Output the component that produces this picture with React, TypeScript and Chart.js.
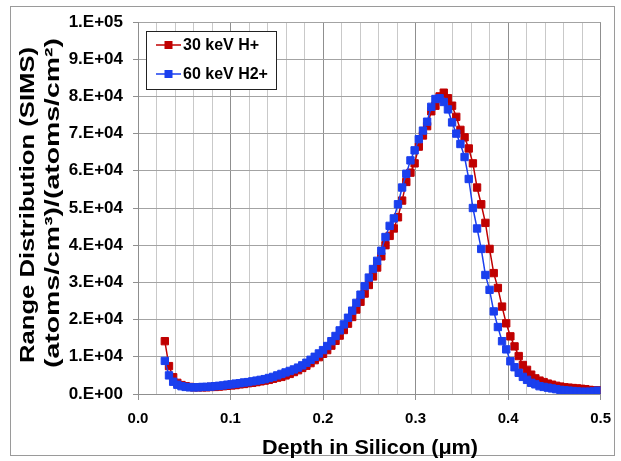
import React, { useEffect, useRef } from "react";
import { Chart, registerables } from "chart.js";

Chart.register(...registerables);

// Depth in silicon (µm)
const depthUm = [
  0.029, 0.0335, 0.038, 0.0425, 0.047, 0.0515, 0.056, 0.0605, 0.065, 0.0695,
  0.074, 0.0785, 0.083, 0.0875, 0.092, 0.0965, 0.101, 0.1055, 0.11, 0.1145,
  0.119, 0.1235, 0.128, 0.1325, 0.137, 0.1415, 0.146, 0.1505, 0.155, 0.1595,
  0.164, 0.1685, 0.173, 0.1775, 0.182, 0.1865, 0.191, 0.1955, 0.2, 0.2045,
  0.209, 0.2135, 0.218, 0.2225, 0.227, 0.2315, 0.236, 0.2405, 0.245, 0.2495,
  0.254, 0.2585, 0.263, 0.2675, 0.272, 0.2765, 0.281, 0.2855, 0.29, 0.2945,
  0.299, 0.3035, 0.308, 0.3125, 0.317, 0.3215, 0.326, 0.3305, 0.335, 0.3395,
  0.344, 0.3485, 0.353, 0.3575, 0.362, 0.3665, 0.371, 0.3755, 0.38, 0.3845,
  0.389, 0.3935, 0.398, 0.4025, 0.407, 0.4115, 0.416, 0.4205, 0.425, 0.4295,
  0.434, 0.4385, 0.443, 0.4475, 0.452, 0.4565, 0.461, 0.4655, 0.47, 0.4745,
  0.479, 0.4835, 0.488, 0.4925, 0.497,
];

// 30 keV H+ (atoms/cm3)/(atoms/cm2)
const h30keV = [
  14200, 7500, 4500, 3000, 2400, 2100, 1900, 1800, 1800, 1800,
  1800, 1900, 1900, 2000, 2100, 2200, 2300, 2400, 2600, 2700,
  2900, 3000, 3200, 3400, 3600, 3800, 4100, 4400, 4600, 5000,
  5400, 5900, 6400, 7000, 7600, 8300, 9100, 9900, 10800, 11800,
  13000, 14300, 15700, 17200, 18900, 20700, 22700, 24800, 27000, 29300,
  31600, 34000, 37000, 40000, 42500, 44500, 47500, 52000, 57000, 59500,
  62000, 66500, 69500, 72000, 76000, 77500, 80000, 81000, 79500, 77500,
  74500, 71000, 69000, 66000, 62000, 55500, 51000, 46000, 39000, 32500,
  28500, 23500, 19000, 15500, 12800, 10200, 7800, 6500, 5200, 4200,
  3600, 3200, 2800, 2500, 2200, 2000, 1800, 1700, 1600, 1500,
  1400, 1300, 1100, 1000, 1000,
];

// 60 keV H2+ (atoms/cm3)/(atoms/cm2)
const h2_60keV = [
  8900, 5000, 3300, 2500, 2100, 1900, 1800, 1800, 1800, 1900,
  1900, 2000, 2100, 2200, 2300, 2500, 2600, 2800, 2900, 3100,
  3200, 3400, 3600, 3800, 4000, 4300, 4600, 5000, 5400, 5800,
  6200, 6600, 7100, 7700, 8400, 9200, 10000, 10900, 11800, 12900,
  14200, 15600, 17100, 18700, 20500, 22400, 24500, 26700, 29000, 31300,
  33600, 35800, 38500, 42200, 45200, 47200, 51000, 55500, 59200, 62800,
  65500, 68500, 70800, 73200, 77200, 79300, 79500, 78500, 76500, 73000,
  70000, 67200, 63700, 57800, 50000, 44500, 39000, 32000, 28000, 22200,
  18000, 14200, 12000, 8800, 7200, 5700, 4600, 3800, 3000, 2600,
  2100, 1900, 1700, 1500, 1300, 1100, 1000, 900, 800, 700,
  600, 600, 600, 700, 900,
];

const seriesLabels = ["30 keV H+", "60 keV H2+"];
const yTitleLines = ["Range Distribution (SIMS)", "(atoms/cm³)/(atoms/cm²)"];
const xTitle = "Depth in Silicon (μm)";

const RED = "#C00000";
const BLUE = "#1A3FEE";
const FONT = "'Liberation Sans', Arial, sans-serif";

const isMajor = (v: number) => Math.abs(v * 10 - Math.round(v * 10)) < 1e-6;

const fmtSci = (v: number) => {
  if (v === 0) return "0.E+00";
  const e = Math.floor(Math.log10(v) + 1e-9);
  const m = Math.round(v / Math.pow(10, e));
  return `${m}.E+${String(e).padStart(2, "0")}`;
};

const drawStretched = (
  ctx: CanvasRenderingContext2D,
  text: string,
  cx: number,
  cy: number,
  targetLen: number,
  rotate: boolean
) => {
  ctx.save();
  ctx.translate(cx, cy);
  if (rotate) ctx.rotate(-Math.PI / 2);
  const w = ctx.measureText(text).width;
  ctx.scale(targetLen / w, 1);
  ctx.textAlign = "center";
  ctx.textBaseline = "middle";
  ctx.fillText(text, 0, 0);
  ctx.restore();
};

const decorPlugin = {
  id: "decor",
  afterDraw(chart: any) {
    const ctx = chart.ctx as CanvasRenderingContext2D;
    // outer frame
    ctx.save();
    ctx.strokeStyle = "#9a9a9a";
    ctx.lineWidth = 1;
    ctx.strokeRect(10.5, 6.5, 604, 449);
    ctx.restore();

    // axis titles
    ctx.save();
    ctx.fillStyle = "#000";
    ctx.font = `bold 21px ${FONT}`;
    drawStretched(ctx, yTitleLines[0], 28, 205, 316, true);
    drawStretched(ctx, yTitleLines[1], 53, 203, 330, true);
    ctx.font = `bold 20px ${FONT}`;
    drawStretched(ctx, xTitle, 370, 448, 216, false);
    ctx.restore();

    // legend
    const bx = 146.5, by = 31.5, bw = 130, bh = 58;
    ctx.save();
    ctx.fillStyle = "#fff";
    ctx.fillRect(bx, by, bw, bh);
    ctx.strokeStyle = "#222";
    ctx.lineWidth = 1;
    ctx.strokeRect(bx, by, bw, bh);
    const rows = [45, 74];
    chart.data.datasets.forEach((ds: any, i: number) => {
      const y = rows[i];
      ctx.strokeStyle = ds.borderColor;
      ctx.lineWidth = 1.5;
      ctx.beginPath();
      ctx.moveTo(156, y);
      ctx.lineTo(181, y);
      ctx.stroke();
      ctx.fillStyle = ds.backgroundColor;
      ctx.fillRect(164.5, y - 4, 8, 8);
      ctx.fillStyle = "#000";
      ctx.font = `bold 16px ${FONT}`;
      ctx.textAlign = "left";
      ctx.textBaseline = "middle";
      ctx.fillText(ds.label, 183, y + 1);
    });
    ctx.restore();
  },
};

export default function App() {
  const canvasRef = useRef<HTMLCanvasElement | null>(null);

  useEffect(() => {
    document.body.style.margin = "0";
    const canvas = canvasRef.current;
    if (!canvas) return;

    const mk = (vals: number[]) => depthUm.map((x, i) => ({ x, y: vals[i] }));

    const chart = new Chart(canvas, {
      type: "line",
      data: {
        datasets: [
          {
            label: seriesLabels[0],
            data: mk(h30keV),
            borderColor: RED,
            backgroundColor: RED,
            pointBorderColor: RED,
            pointBackgroundColor: RED,
            pointStyle: "rect",
            pointRadius: 5.2,
            pointBorderWidth: 1,
            borderWidth: 1.5,
            tension: 0,
            order: 2,
          },
          {
            label: seriesLabels[1],
            data: mk(h2_60keV),
            borderColor: BLUE,
            backgroundColor: BLUE,
            pointBorderColor: BLUE,
            pointBackgroundColor: BLUE,
            pointStyle: "rect",
            pointRadius: 5.2,
            pointBorderWidth: 1,
            borderWidth: 1.5,
            tension: 0,
            order: 1,
          },
        ],
      },
      options: {
        responsive: false,
        animation: false,
        devicePixelRatio: 1,
        layout: { padding: { left: 0, right: 19, top: 22, bottom: 0 } },
        plugins: {
          legend: { display: false },
          tooltip: { enabled: false },
        },
        scales: {
          x: {
            type: "linear",
            min: 0,
            max: 0.5,
            afterFit: (s: any) => {
              s.height = 67;
            },
            ticks: {
              stepSize: 0.02,
              autoSkip: false,
              maxRotation: 0,
              padding: 10,
              color: "#000",
              font: { family: FONT, size: 15, weight: "bold" },
              callback: (v: any) => (isMajor(Number(v)) ? Number(v).toFixed(1) : ""),
            },
            grid: {
              color: (c: any) => (isMajor(c.tick.value) ? "#8f8f8f" : "#c9c9c9"),
              lineWidth: 1,
              tickLength: 6,
              tickColor: (c: any) => (isMajor(c.tick.value) ? "#8f8f8f" : "rgba(0,0,0,0)"),
            },
            border: { color: "#8f8f8f", width: 1 },
          },
          y: {
            min: 0,
            max: 100000,
            afterFit: (s: any) => {
              s.width = 138;
            },
            ticks: {
              stepSize: 10000,
              padding: 10,
              color: "#000",
              font: { family: FONT, size: 17, weight: "bold" },
              callback: (v: any) => fmtSci(Number(v)),
            },
            grid: {
              color: "#a3a3a3",
              lineWidth: 1,
              tickLength: 5,
              tickColor: "#8f8f8f",
            },
            border: { color: "#8f8f8f", width: 1 },
          },
        },
      },
      plugins: [decorPlugin],
    } as any);

    return () => chart.destroy();
  }, []);

  return (
    <div style={{ width: 621, height: 461 }}>
      <canvas ref={canvasRef} width={621} height={461} />
    </div>
  );
}
